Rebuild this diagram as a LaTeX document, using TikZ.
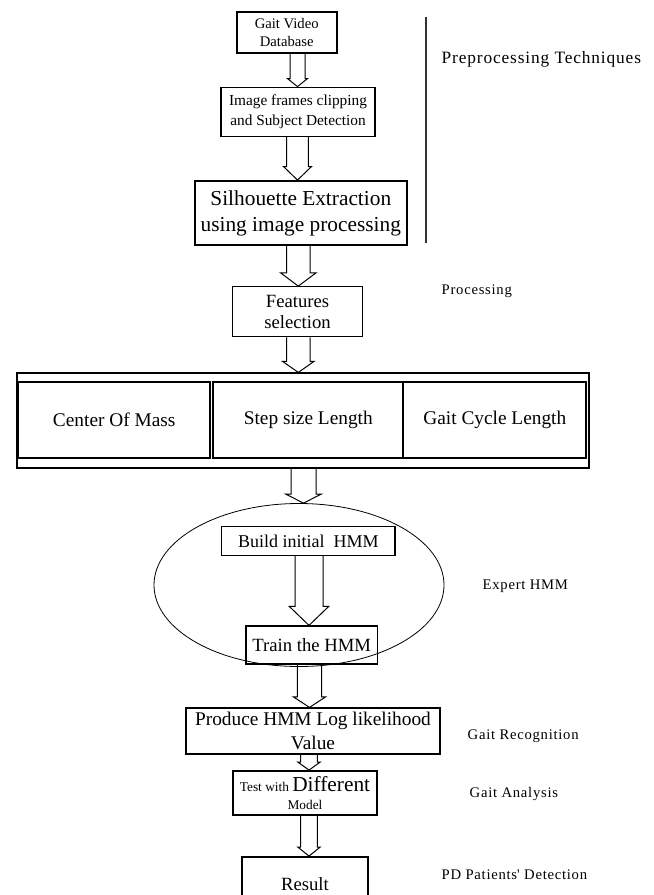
\documentclass[tikz,border=0pt]{standalone}
\usepackage{fontspec}
\setmainfont{Liberation Serif}
\newfontfamily\labelfont[LetterSpace=5]{Liberation Serif}
\usetikzlibrary{calc,shapes.geometric}

\tikzset{
  boxsize/.style 2 args={minimum width=#1*0.75pt, minimum height=#2*0.75pt},
  heavybox/.style={draw, line width=1.4pt, inner sep=0pt, align=center},
  lightbox/.style={draw, line width=0.9pt, inner sep=0pt, align=center},
  cell/.style={heavybox, font=\fontsize{14.5}{17}\selectfont},
  stagelabel/.style={anchor=west, font=\labelfont\fontsize{11}{13}\selectfont},
  hollow/.style={draw, line width=0.75pt, line join=miter},
}

% hollow block arrow: x (px), from node, to node, half shaft, half head, head length
\newcommand{\hollowarrow}[6]{%
  \draw[hollow] let \p1=(#2.south), \p2=(#3.north), \p3=(#1,0) in
    (\x3-#4*0.75pt,\y1) -- (\x3-#4*0.75pt,\y2+#6*0.75pt) -- (\x3-#5*0.75pt,\y2+#6*0.75pt)
    -- (\x3,\y2) -- (\x3+#5*0.75pt,\y2+#6*0.75pt) -- (\x3+#4*0.75pt,\y2+#6*0.75pt)
    -- (\x3+#4*0.75pt,\y1);}

\begin{document}
\begin{tikzpicture}[x=0.75pt, y=-0.75pt]
  \useasboundingbox (0,0) rectangle (653,895);

  % preprocessing
  \node[heavybox, boxsize={100}{41}, font=\fontsize{11}{13.3}\selectfont]
    (db) at (286.7,32.5) {Gait Video\\Database};
  \node[lightbox, boxsize={154}{49}, font=\fontsize{11.5}{15}\selectfont]
    (clip) at (298,111.7) {Image frames clipping\\and Subject Detection};
  \node[heavybox, boxsize={211.7}{64}, font=\fontsize{16}{19.5}\selectfont]
    (silh) at (300.8,213) {Silhouette Extraction\\using image processing};
  \coordinate (sepTop) at (426,17);
  \coordinate (sepBot) at (426,243);
  \draw[line width=0.9pt, black!80] (sepTop) -- (sepBot);

  % processing
  \node[lightbox, boxsize={129.6}{50}, font=\fontsize{14}{15.5}\selectfont]
    (feat) at (297.5,311.7) {Features\\selection};
  \node[heavybox, boxsize={572}{94.7}] (featset) at (302.6,420.7) {};
  \node[cell, boxsize={191.7}{76.6}] (com) at (114.2,420) {Center Of Mass};
  \node[cell, boxsize={190}{76.6}] (stepsize) at (308.3,420) {Step size Length};
  \node[cell, boxsize={183}{76.6}] (cycle) at (494.8,420) {Gait Cycle Length};

  % expert HMM
  \node[draw, ellipse, line width=0.6pt, boxsize={290}{163}] (expert) at (299,585) {};
  \node[lightbox, boxsize={173.3}{28.8}, font=\fontsize{13.5}{15}\selectfont]
    (build) at (308.3,541) {Build initial\enspace HMM};
  \node[lightbox, boxsize={131.3}{38}, font=\fontsize{14}{15}\selectfont]
    (train) at (311.7,645) {Train the HMM};

  % recognition and analysis
  \node[lightbox, boxsize={254}{46}, font=\fontsize{14.5}{18}\selectfont]
    (prod) at (313,731) {Produce HMM Log likelihood\\Value};
  \node[heavybox, boxsize={143.7}{44}, font=\fontsize{10}{14}\selectfont]
    (test) at (305,793) {Test with {\fontsize{16}{18}\selectfont Different}\\Model};
  \node[heavybox, boxsize={126.7}{55}, font=\fontsize{14}{16}\selectfont]
    (result) at (305,884.5) {Result};

  % block arrows
  \hollowarrow{297.5}{db}{clip}{7.5}{10}{8}
  \hollowarrow{297.5}{clip}{silh}{10.8}{14}{13.5}
  \hollowarrow{298.3}{silh}{feat}{11.7}{17.8}{13.3}
  \hollowarrow{298.3}{feat}{featset}{11.7}{15.7}{11}
  \hollowarrow{303.5}{featset}{expert}{12.5}{17.8}{9}
  \hollowarrow{309}{build}{train}{14}{19.7}{19}
  \hollowarrow{309.5}{train}{prod}{12.2}{16.2}{10.6}
  \hollowarrow{309}{prod}{test}{8.3}{11.2}{8}
  \hollowarrow{309}{test}{result}{8.3}{11.2}{9}

  % stage labels
  \node[stagelabel, font=\labelfont\fontsize{13}{15}\selectfont]
    (preLbl) at (437,59) {Preprocessing Techniques};
  \node[stagelabel] (procLbl) at (437,291) {Processing};
  \node[stagelabel] (expLbl) at (478,586) {Expert HMM};
  \node[stagelabel] (recLbl) at (463,736) {Gait Recognition};
  \node[stagelabel] (anaLbl) at (465,794) {Gait Analysis};
  \node[stagelabel] (pdLbl) at (437,875) {PD Patients\textquotesingle{} Detection};
\end{tikzpicture}
\end{document}
